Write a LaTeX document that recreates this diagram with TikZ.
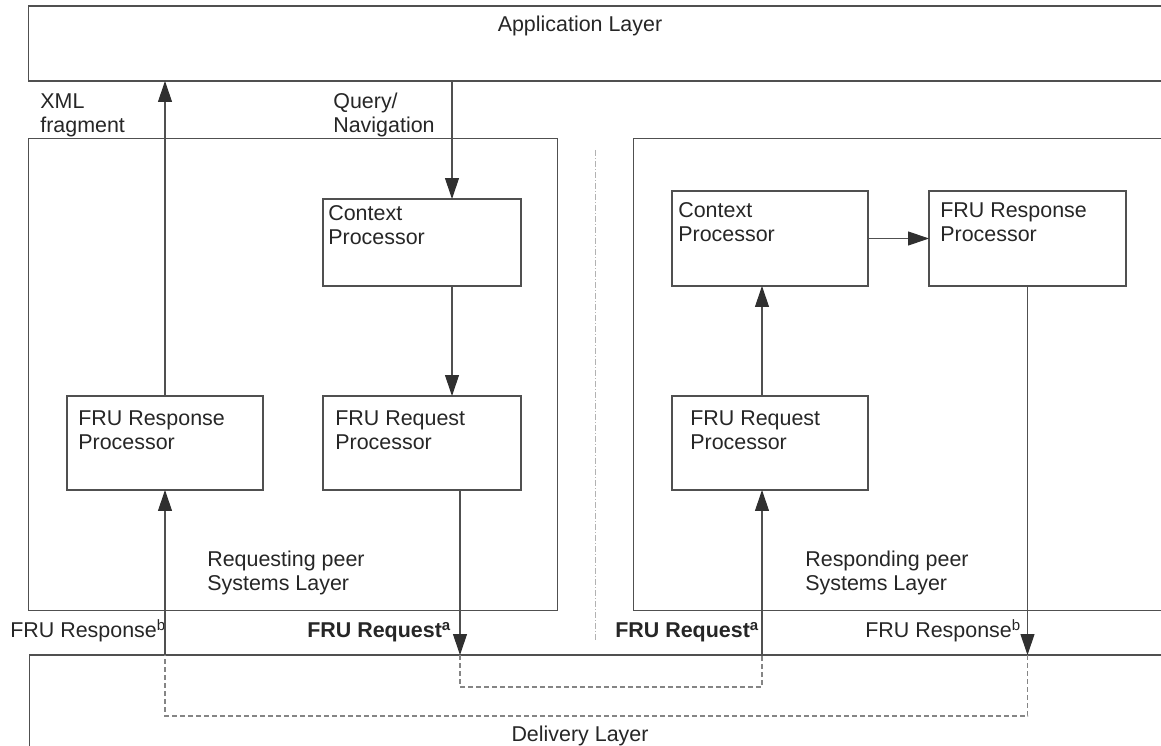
\documentclass[tikz,border=0pt]{standalone}
\usepackage{fontspec}
\setmainfont{Liberation Sans}
\usetikzlibrary{positioning,arrows.meta}
\definecolor{linegray}{HTML}{505050}
\definecolor{tipgray}{HTML}{303030}
\definecolor{dashgray}{HTML}{858585}

\begin{document}
\begin{tikzpicture}[x=0.02cm, y=-0.02cm,
    font=\fontsize{12.2}{14.2}\selectfont,
    layer/.style={draw=linegray, line width=0.6pt, inner sep=0, outer sep=0},
    procbox/.style={draw=linegray, line width=0.6pt, inner sep=0, outer sep=0,
      minimum width=3.94cm, minimum height=1.9cm},
    txt/.style={anchor=base west, align=left, inner sep=0, text=black!85},
    flow/.style={draw=linegray, line width=0.6pt,
      -{Triangle[length=0.42cm, width=0.28cm, color=tipgray]}},
    dlink/.style={draw=dashgray, line width=0.6pt, dash pattern=on 0.1cm off 0.06cm},
    sep/.style={draw=gray!60, line width=0.5pt,
      dash pattern=on 0.12cm off 0.04cm on 0.02cm off 0.04cm}]
    \useasboundingbox (0,0) rectangle (1161,746);
    \clip (0,0) rectangle (1161,746);

    % layers
    \node[layer, minimum width=23.24cm, minimum height=1.5cm] (app) at (609,43.5) {};
    \node[layer, minimum width=10.6cm, minimum height=9.46cm] (lsys) at (293,374.5) {};
    \node[layer, minimum width=11.14cm, minimum height=9.46cm] (rsys) at (911.5,374.5) {};
    \node[layer, minimum width=23.22cm, minimum height=2.3cm] (dlv) at (609.5,712.5) {};
    \draw[sep] (595,150) -- (595,640);

    % requesting peer
    \node[procbox, minimum width=3.96cm, minimum height=1.74cm] (lctx) at (422,242.5) {};
    \node[procbox, minimum width=3.96cm, minimum height=1.88cm] (lreq) at (422,443) {};
    \node[procbox, minimum width=3.92cm, minimum height=1.88cm] (lresp) at (165,443) {};

    % responding peer
    \node[procbox, minimum width=3.92cm] (rctx) at (770,238.5) {};
    \node[procbox] (rresp) at (1027.5,238.5) {};
    \node[procbox, minimum width=3.92cm, minimum height=1.88cm] (rreq) at (770,443) {};

    % texts (base = last line)
    \node[anchor=base, inner sep=0, text=black!85] (appT) at (580,32) {Application Layer};
    \node[txt] (xmlT) at (40,133) {XML\\fragment};
    \node[txt] (qryT) at (333,133) {Query/\\Navigation};
    \node[txt] (lctxT) at (328,245) {Context\\Processor};
    \node[txt] (lreqT) at (335,450) {FRU Request\\Processor};
    \node[txt] (lrespT) at (78,450) {FRU Response\\Processor};
    \node[txt] (rctxT) at (678,242) {Context\\Processor};
    \node[txt] (rrespT) at (940,242) {FRU Response\\Processor};
    \node[txt] (rreqT) at (690,450) {FRU Request\\Processor};
    \node[txt] (lsysT) at (207,591) {Requesting peer\\Systems Layer};
    \node[txt] (rsysT) at (805,591) {Responding peer\\Systems Layer};
    \node[txt] (lrespM) at (10,638) {FRU Response\textsuperscript{b}};
    \node[txt] (lreqM) at (307,638) {\textbf{FRU Request\textsuperscript{a}}};
    \node[txt] (rreqM) at (615,638) {\textbf{FRU Request\textsuperscript{a}}};
    \node[txt] (rrespM) at (865,638) {FRU Response\textsuperscript{b}};
    \node[anchor=base, inner sep=0, text=black!85] (dlvT) at (580,742) {Delivery Layer};

    % line positions
    \coordinate (xq) at (452,0);
    \coordinate (xa) at (460,0);
    \coordinate (xb) at (762,0);
    \coordinate (ya) at (0,687);
    \coordinate (yb) at (0,716);

    % connectors
    \draw[flow] (lresp.north) -- (lresp.north |- app.south);
    \draw[flow] (xq |- app.south) -- (xq |- lctx.north);
    \draw[flow] (xq |- lctx.south) -- (xq |- lreq.north);
    \draw[flow] (xa |- lreq.south) -- (xa |- dlv.north);
    \draw[dlink] (xa |- dlv.north) -- (xa |- ya) -- (xb |- ya) -- (xb |- dlv.north);
    \draw[flow] (xb |- dlv.north) -- (xb |- rreq.south);
    \draw[flow] (xb |- rreq.north) -- (xb |- rctx.south);
    \draw[flow] (rctx.east) -- (rresp.west);
    \draw[flow] (rresp.south) -- (rresp.south |- dlv.north);
    \draw[dlink] (rresp.south |- dlv.north) -- (rresp.south |- yb) -- (lresp.south |- yb) -- (lresp.south |- dlv.north);
    \draw[flow] (lresp.south |- dlv.north) -- (lresp.south);
\end{tikzpicture}
\end{document}
